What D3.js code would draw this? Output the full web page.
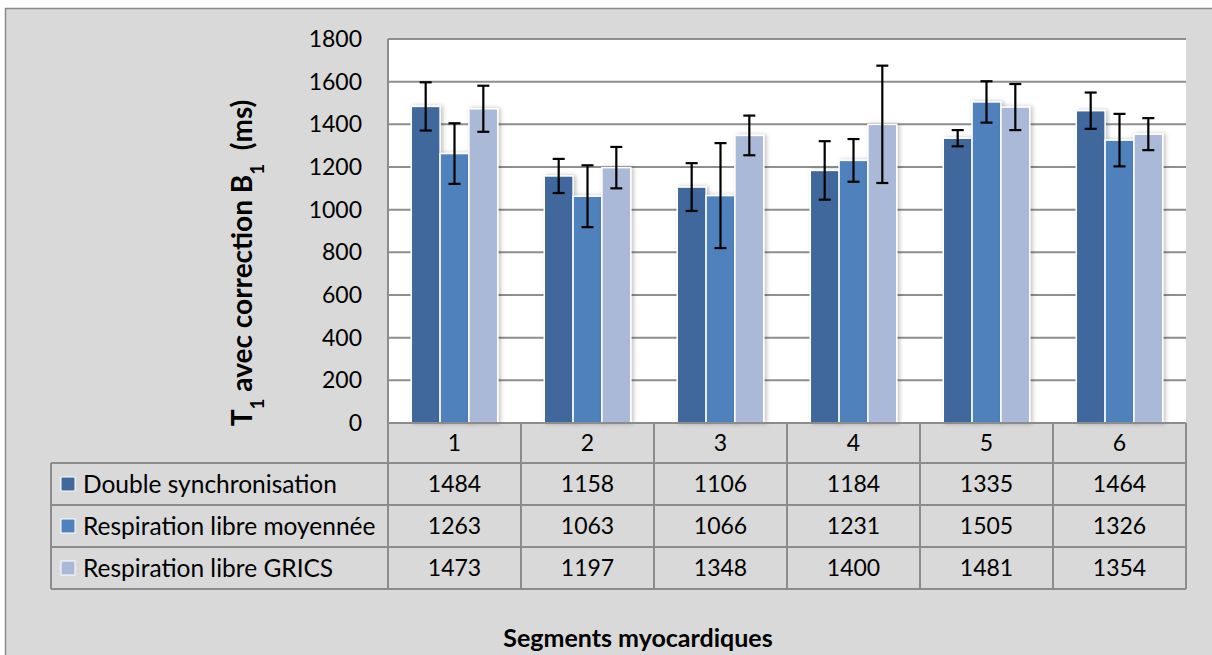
<!DOCTYPE html>
<html>
<head>
<meta charset="utf-8">
<script src="https://cdn.jsdelivr.net/npm/d3@7"></script>
<style>
	body { margin: 0; background: #ffffff; }
	svg text { font-family: Lato, "Open Sans", sans-serif; fill: #000; }
</style>
</head>
<body>
<div id="chart"></div>
<script>
// categories + series
var segments = ["1", "2", "3", "4", "5", "6"];
var seriesNames = ["Double synchronisation", "Respiration libre moyennée", "Respiration libre GRICS"];
var doubleSync = [1484, 1158, 1106, 1184, 1335, 1464];
var respMoyennee = [1263, 1063, 1066, 1231, 1505, 1326];
var respGrics = [1473, 1197, 1348, 1400, 1481, 1354];
// error bar half widths
var errDouble = [113, 80, 112, 137, 38, 85];
var errMoyennee = [142, 145, 246, 100, 97, 123];
var errGrics = [108, 97, 93, 275, 108, 75];
var yTicks = [0, 200, 400, 600, 800, 1000, 1200, 1400, 1600, 1800];

var colors = ["#3f689c", "#4f81bd", "#aab9d7"];
var values = [doubleSync, respMoyennee, respGrics];
var errors = [errDouble, errMoyennee, errGrics];

var W = 1212, H = 655;
var plot = { left: 388, right: 1186, top: 39, bottom: 423 };
var rowH = [40, 42, 42, 42]; // header row + one row per series
var tableLeft = 51;
var numSize = "23px", textSize = "24.5px";

var svg = d3.select("#chart").append("svg")
	.attr("width", W)
	.attr("height", H);

// soft shadow under the bars
var defs = svg.append("defs");
var f = defs.append("filter").attr("id", "shadow")
	.attr("x", "-20%").attr("y", "-5%").attr("width", "150%").attr("height", "110%");
f.append("feDropShadow")
	.attr("dx", 2).attr("dy", 0).attr("stdDeviation", 2)
	.attr("flood-color", "#000").attr("flood-opacity", 0.25);

// chart background + frame
svg.append("rect")
	.attr("x", 5.5).attr("y", 8.5)
	.attr("width", W + 10).attr("height", H + 10)
	.attr("fill", "#d9d9d9")
	.attr("stroke", "#898989").attr("stroke-width", 1.5);

// plot area
svg.append("rect")
	.attr("x", plot.left).attr("y", plot.top)
	.attr("width", plot.right - plot.left).attr("height", plot.bottom - plot.top)
	.attr("fill", "#ffffff");

var y = d3.scaleLinear().domain([0, 1800]).range([plot.bottom, plot.top]);

var x = d3.scaleBand()
	.domain(segments)
	.range([plot.left, plot.right])
	.paddingInner(0.35)
	.paddingOuter(0.175);

var x1 = d3.scaleBand()
	.domain(d3.range(seriesNames.length))
	.range([0, x.bandwidth()]);

// gridlines
svg.append("g").selectAll("line")
	.data(yTicks.slice(1))
	.enter().append("line")
	.attr("x1", plot.left).attr("x2", plot.right)
	.attr("y1", function (d) { return y(d); })
	.attr("y2", function (d) { return y(d); })
	.attr("stroke", "#8e8e8e").attr("stroke-width", 2);

// y axis labels
var yAxis = svg.append("g")
	.attr("transform", "translate(" + plot.left + ",0)")
	.call(d3.axisLeft(y).tickValues(yTicks).tickFormat(d3.format("d")).tickSize(0).tickPadding(26));
yAxis.select(".domain").remove();
yAxis.selectAll("text")
	.style("font-family", "Lato, sans-serif")
	.style("font-size", numSize)
	.attr("fill", "#000");

// bars
var bars = [];
segments.forEach(function (s, i) {
	seriesNames.forEach(function (n, j) {
		bars.push({ seg: s, k: j, value: values[j][i], err: errors[j][i] });
	});
});

svg.append("g").selectAll("rect")
	.data(bars)
	.enter().append("rect")
	.attr("x", function (d) { return x(d.seg) + x1(d.k); })
	.attr("y", function (d) { return y(d.value); })
	.attr("width", x1.bandwidth())
	.attr("height", function (d) { return y(0) - y(d.value); })
	.attr("fill", function (d) { return colors[d.k]; })
	.attr("stroke", "#ffffff").attr("stroke-width", 1.5)
	.attr("filter", "url(#shadow)");

// error bars
var eb = svg.append("g").attr("stroke", "#000").attr("stroke-width", 2.2);
bars.forEach(function (d) {
	var cx = x(d.seg) + x1(d.k) + x1.bandwidth() / 2;
	var t = y(d.value + d.err), b = y(d.value - d.err);
	eb.append("line").attr("x1", cx).attr("x2", cx).attr("y1", t).attr("y2", b);
	eb.append("line").attr("x1", cx - 6).attr("x2", cx + 6).attr("y1", t).attr("y2", t);
	eb.append("line").attr("x1", cx - 6).attr("x2", cx + 6).attr("y1", b).attr("y2", b);
});

// data table under the plot
var tb = svg.append("g");
var rowY = [plot.bottom];
rowH.forEach(function (h, i) { rowY.push(rowY[i] + h); });
var tableBottom = rowY[rowY.length - 1];
var lineColor = "#8c8c8c";

// horizontal lines
rowY.forEach(function (yy, i) {
	tb.append("line")
		.attr("x1", i === 0 ? plot.left : tableLeft).attr("x2", plot.right)
		.attr("y1", yy).attr("y2", yy)
		.attr("stroke", lineColor).attr("stroke-width", 2);
});
// left border of series column
tb.append("line")
	.attr("x1", tableLeft).attr("x2", tableLeft)
	.attr("y1", rowY[1]).attr("y2", tableBottom)
	.attr("stroke", lineColor).attr("stroke-width", 2);
// category column borders (axis line included)
var colEdges = segments.map(function (s) { return x(s) - x.step() * x.paddingInner() / 2; });
colEdges.push(plot.right);
colEdges.forEach(function (cx, i) {
	tb.append("line")
		.attr("x1", cx).attr("x2", cx)
		.attr("y1", i === 0 ? plot.top : plot.bottom).attr("y2", tableBottom)
		.attr("stroke", lineColor).attr("stroke-width", 2);
});

// category labels
tb.selectAll(".cat")
	.data(segments)
	.enter().append("text")
	.attr("x", function (d) { return x(d) + x.bandwidth() / 2; })
	.attr("y", rowY[0] + rowH[0] / 2)
	.attr("dy", "0.35em")
	.attr("text-anchor", "middle")
	.style("font-size", numSize)
	.text(function (d) { return d; });

// values + legend keys
seriesNames.forEach(function (n, j) {
	var cy = rowY[j + 1] + rowH[j + 1] / 2;
	tb.append("rect")
		.attr("x", 61).attr("y", cy - 7)
		.attr("width", 14).attr("height", 14)
		.attr("fill", colors[j])
		.attr("stroke", "#ffffff").attr("stroke-width", 1);
	tb.append("text")
		.attr("x", 83).attr("y", cy).attr("dy", "0.35em")
		.style("font-size", textSize)
		.text(n);
	segments.forEach(function (s, i) {
		tb.append("text")
			.attr("x", x(s) + x.bandwidth() / 2)
			.attr("y", cy).attr("dy", "0.35em")
			.attr("text-anchor", "middle")
			.style("font-size", numSize)
			.text(values[j][i]);
	});
});

// axis titles
var yt = svg.append("text")
	.attr("transform", "translate(252,263) rotate(-90)")
	.attr("text-anchor", "middle")
	.style("font-size", "28px")
	.style("font-weight", "bold");
yt.append("tspan").text("T");
yt.append("tspan").attr("baseline-shift", "sub").style("font-size", "19px").text("1");
yt.append("tspan").text(" avec correction B");
yt.append("tspan").attr("baseline-shift", "sub").style("font-size", "19px").text("1");
yt.append("tspan").text("  (ms)").attr("xml:space", "preserve");

svg.append("text")
	.attr("x", 638).attr("y", 647)
	.attr("text-anchor", "middle")
	.style("font-size", "25px")
	.style("font-weight", "bold")
	.text("Segments myocardiques");
</script>
</body>
</html>
